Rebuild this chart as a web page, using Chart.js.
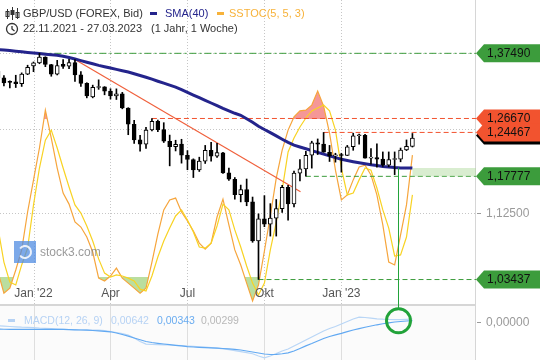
<!DOCTYPE html>
<html><head><meta charset="utf-8">
<script src="https://cdn.jsdelivr.net/npm/chart.js@4/dist/chart.umd.min.js"></script>
<style>html,body{margin:0;padding:0;background:#fff;overflow:hidden}#wrap{width:540px;height:360px;position:relative}</style>
</head><body><div id="wrap"><canvas id="c" width="540" height="360"></canvas></div>
<script>
// ---------- DATA ----------
const weeks = ['22.11.2021','29.11.2021','06.12.2021','13.12.2021','20.12.2021','27.12.2021',
'03.01.2022','10.01.2022','17.01.2022','24.01.2022','31.01.2022','07.02.2022','14.02.2022','21.02.2022','28.02.2022',
'07.03.2022','14.03.2022','21.03.2022','28.03.2022','04.04.2022','11.04.2022','18.04.2022','25.04.2022',
'02.05.2022','09.05.2022','16.05.2022','23.05.2022','30.05.2022','06.06.2022','13.06.2022','20.06.2022','27.06.2022',
'04.07.2022','11.07.2022','18.07.2022','25.07.2022','01.08.2022','08.08.2022','15.08.2022','22.08.2022','29.08.2022',
'05.09.2022','12.09.2022','19.09.2022','26.09.2022','03.10.2022','10.10.2022','17.10.2022','24.10.2022','31.10.2022',
'07.11.2022','14.11.2022','21.11.2022','28.11.2022','05.12.2022','12.12.2022','19.12.2022','26.12.2022',
'02.01.2023','09.01.2023','16.01.2023','23.01.2023','30.01.2023','06.02.2023','13.02.2023','20.02.2023','27.02.2023',
'06.03.2023','13.03.2023','20.03.2023','27.03.2023'];
const opens  = [1.3440,1.3330,1.3262,1.3265,1.3235,1.3395,1.3535,1.3585,1.3685,1.3555,1.3395,1.3560,1.3530,1.3590,1.3380,
1.3240,1.3015,1.3170,1.3180,1.3110,1.3030,1.3065,1.2835,1.2575,1.2330,1.2265,1.2485,1.2620,1.2490,1.2310,1.2225,1.2265,
1.2095,1.2030,1.1875,1.2005,1.2170,1.2080,1.2130,1.1830,1.1735,1.1510,1.1585,1.1405,1.0860,1.1165,1.1090,1.1175,1.1310,1.1615,
1.1375,1.1825,1.1890,1.2095,1.2285,1.2265,1.2140,1.2085,1.2095,1.2090,1.2225,1.2395,1.2400,1.2050,1.2060,1.2035,1.1945,
1.2030,1.2035,1.2175,1.2230];
const highs  = [1.3445,1.3370,1.3280,1.3375,1.3415,1.3545,1.3600,1.3749,1.3690,1.3560,1.3628,1.3643,1.3644,1.3643,1.3437,
1.3250,1.3210,1.3298,1.3185,1.3150,1.3148,1.3090,1.2840,1.2638,1.2400,1.2525,1.2667,1.2640,1.2600,1.2405,1.2325,1.2340,
1.2165,1.2040,1.2065,1.2245,1.2293,1.2276,1.2140,1.1900,1.1760,1.1649,1.1738,1.1475,1.1235,1.1495,1.1380,1.1440,1.1645,1.1645,
1.1855,1.2030,1.2155,1.2310,1.2345,1.2446,1.2245,1.2125,1.2125,1.2245,1.2435,1.2420,1.2418,1.2195,1.2270,1.2145,1.2145,
1.2145,1.2205,1.2330,1.2430];
const lows   = [1.3279,1.3195,1.3165,1.3170,1.3188,1.3385,1.3435,1.3570,1.3520,1.3358,1.3380,1.3490,1.3485,1.3273,1.3187,
1.3000,1.3000,1.3140,1.3050,1.2980,1.2973,1.2822,1.2411,1.2275,1.2155,1.2200,1.2470,1.2460,1.2290,1.1934,1.2160,1.1975,
1.1876,1.1760,1.1850,1.1970,1.2003,1.2060,1.1820,1.1717,1.1444,1.1405,1.1350,1.0840,1.0345,1.1055,1.0925,1.0925,1.1255,1.1145,
1.1335,1.1710,1.1780,1.1900,1.2105,1.2140,1.2000,1.1990,1.1840,1.2090,1.2170,1.2265,1.2050,1.1960,1.1915,1.1925,1.1920,
1.1803,1.1995,1.2165,1.2220];
const closes = [1.3330,1.3245,1.3255,1.3235,1.3395,1.3510,1.3585,1.3685,1.3560,1.3395,1.3540,1.3525,1.3590,1.3380,1.3240,
1.3030,1.3175,1.3185,1.3110,1.3030,1.3065,1.2835,1.2575,1.2330,1.2265,1.2485,1.2620,1.2490,1.2310,1.2225,1.2260,1.2095,
1.2030,1.1875,1.2005,1.2170,1.2080,1.2135,1.1830,1.1735,1.1510,1.1585,1.1405,1.0860,1.1165,1.1090,1.1175,1.1310,1.1615,1.1375,
1.1825,1.1890,1.2095,1.2285,1.2265,1.2140,1.2085,1.2095,1.2090,1.2225,1.2395,1.2400,1.2050,1.2060,1.2035,1.1945,1.2030,
1.2035,1.2175,1.2230,1.2360];
const sma40 = [1.3815,1.3806,1.3796,1.3786,1.3775,1.3765,1.3754,1.3744,1.3734,1.3725,1.3716,1.3698,1.3677,1.3651,1.3624,
1.3596,1.3569,1.3542,1.3518,1.3496,1.3474,1.3452,1.3430,1.3401,1.3371,1.3342,1.3309,1.3275,1.3242,1.3210,1.3178,1.3137,
1.3091,1.3046,1.3002,1.2960,1.2916,1.2872,1.2828,1.2788,1.2750,1.2718,1.2663,1.2606,1.2543,1.2492,1.2444,1.2392,1.2341,1.2291,
1.2248,1.2220,1.2194,1.2165,1.2138,1.2112,1.2084,1.2059,1.2033,1.2015,1.1997,1.1980,1.1965,1.1950,1.1938,1.1926,1.1917,
1.1908,1.1902,1.1902,1.1902];
const stochK = [21.9,13.9,15.8,22.7,30.3,44.7,56.9,69.0,83.4,72.8,61.4,51.9,47.7,40.9,39.0,35.2,29.5,19.6,18.5,20.4,23.4,
19.6,17.7,15.8,13.9,15.8,25.7,36.3,45.5,49.3,50.0,44.7,41.3,37.5,32.9,30.6,32.9,42.8,49.6,39.8,30.3,24.6,17.7,10.9,17.0,
29.9,43.2,57.6,68.2,75.8,80.8,83.1,83.4,85.3,90.6,84.9,74.7,60.6,49.3,51.2,56.9,61.8,62.5,58.8,51.2,39.8,25.7,24.6,36.0,47.4,66.3];
const stochD = [38.6,25.7,18.1,17.0,24.6,31.0,47.4,61.4,72.0,75.8,69.0,61.4,54.2,47.4,44.3,39.4,33.7,26.9,21.5,20.0,20.8,
20.4,19.6,18.5,15.4,14.7,20.4,27.6,33.7,38.6,43.2,45.5,41.7,37.1,31.4,31.0,32.9,39.4,47.7,45.5,37.9,31.4,24.2,17.7,13.2,
17.7,30.3,40.9,53.1,67.5,72.8,77.0,80.4,83.1,84.2,85.3,83.1,75.8,61.4,51.2,51.9,56.9,61.4,60.6,53.8,45.5,38.6,28.0,28.4,35.2,51.2];
const macdLine = [-0.0064,-0.0070,-0.0077,-0.0083,-0.0089,-0.0092,-0.0098,-0.0106,-0.0111,-0.0119,-0.0125,-0.0130,-0.0134,
-0.0136,-0.0140,-0.0142,-0.0143,-0.0147,-0.0155,-0.0172,-0.0191,-0.0211,-0.0238,-0.0294,-0.0360,-0.0409,-0.0413,-0.0419,
-0.0423,-0.0426,-0.0432,-0.0438,-0.0445,-0.0453,-0.0460,-0.0468,-0.0475,-0.0485,-0.0498,-0.0513,-0.0532,-0.0551,-0.0570,
-0.0592,-0.0634,-0.0668,-0.0634,-0.0587,-0.0540,-0.0502,-0.0445,-0.0389,-0.0332,-0.0275,-0.0219,-0.0162,-0.0115,-0.0077,
-0.0030,0.0017,0.0064,0.0098,0.0092,0.0079,0.0068,0.0060,0.0055,0.0051,0.0053,0.0058,0.00642];
const macdSignal = [-0.0128,-0.0129,-0.0130,-0.0130,-0.0130,-0.0130,-0.0130,-0.0130,-0.0131,-0.0131,-0.0131,-0.0132,-0.0136,
-0.0140,-0.0143,-0.0147,-0.0153,-0.0160,-0.0168,-0.0177,-0.0200,-0.0228,-0.0260,-0.0294,-0.0328,-0.0360,-0.0379,-0.0394,
-0.0408,-0.0421,-0.0432,-0.0443,-0.0457,-0.0464,-0.0470,-0.0475,-0.0481,-0.0487,-0.0492,-0.0500,-0.0509,-0.0521,-0.0540,
-0.0558,-0.0577,-0.0596,-0.0606,-0.0602,-0.0592,-0.0574,-0.0540,-0.0492,-0.0442,-0.0398,-0.0351,-0.0304,-0.0266,-0.0234,
-0.0206,-0.0174,-0.0143,-0.0117,-0.0091,-0.0068,-0.0045,-0.0026,-0.0008,0.0008,0.0017,0.0026,0.00343];
const macdValues = ['0,00642','0,00343','0,00299'];
const tickIndex = [6,19,32,45,58];
const tickLabels = ["Jan '22","Apr","Jul","Okt","Jan '23"];
const levelPrices = [1.37490,1.26670,1.24467,1.17777,1.03437];
const levelLabels = ['1,37490','1,26670','1,24467','1,17777','1,03437'];
const levelFrom = [7,26,55,52,44];
const trendIdx = [13,51.1];
const trendPrice = [1.3643,1.1552];
const priceGrid = [1.125,1.25,1.375];
const priceAxisLabel = [1.125,'1,12500'];
const signalMark = 67.5;

// ---------- STYLE ----------
const GREEN='#3c9c3c', RED='#f2532f', FONT='"Liberation Sans", Arial, sans-serif';
const XMIN=0.338, XMAX=80.74;
const YMIN=0.9348, YMAX=1.4703;
const pts = arr => arr.map((v,i)=>({x:i,y:v}));
const seg = (i0,i1,p0,p1)=>[{x:i0,y:p0},{x:i1,y:p1}];

const levelStyles = [
  {c:GREEN,d:[7,3,2,3]},{c:RED,d:[5,3]},{c:RED,d:[5,3]},{c:GREEN,d:[5,3]},{c:GREEN,d:[5,3]}
];
const levelSets = levelPrices.map((p,k)=>({type:'line',data:seg(levelFrom[k],XMAX,p,p),yAxisID:'y',
  borderColor:levelStyles[k].c,borderDash:levelStyles[k].d,borderWidth:1,pointRadius:0,order:6}));

const up = opens.map((o,i)=>closes[i]>=o);
const datasets = [
  {type:'line',data:pts(stochK),yAxisID:'yS',borderWidth:0,borderColor:'rgba(0,0,0,0)',pointRadius:0,
   fill:{target:{value:80},above:'rgba(240,95,95,0.65)',below:'rgba(0,0,0,0)'},order:12},
  {type:'line',data:pts(stochK),yAxisID:'yS',borderWidth:0,borderColor:'rgba(0,0,0,0)',pointRadius:0,
   fill:{target:{value:20},above:'rgba(0,0,0,0)',below:'rgba(140,200,95,0.6)'},order:12},
  {type:'line',data:pts(stochK),yAxisID:'yS',borderColor:'#f6a53c',borderWidth:1.2,pointRadius:0,order:10,
   clip:{left:0,top:0,right:0,bottom:-55}},
  {type:'line',data:pts(stochD),yAxisID:'yS',borderColor:'#f8d323',borderWidth:1.2,pointRadius:0,order:9,
   clip:{left:0,top:0,right:0,bottom:-55}},
  {type:'line',data:pts(macdSignal),yAxisID:'yM',borderColor:'#62a9f2',borderWidth:1.2,pointRadius:0,order:8},
  {type:'line',data:pts(macdLine),yAxisID:'yM',borderColor:'#b9d6f6',borderWidth:1.2,pointRadius:0,order:8},
  ...levelSets,
  {type:'line',data:seg(trendIdx[0],trendIdx[1],trendPrice[0],trendPrice[1]),yAxisID:'y',borderColor:'#f0603c',borderWidth:1.2,pointRadius:0,order:6},
  {type:'line',data:pts(sma40),yAxisID:'y',borderColor:'#24248c',borderWidth:3,pointRadius:0,order:5},
  {type:'bar',data:highs.map((h,i)=>({x:i,y:[lows[i],h]})),yAxisID:'y',grouped:false,barThickness:1,
   backgroundColor:'#000',borderWidth:0,order:2},
  {type:'bar',data:opens.map((o,i)=>({x:i,y:[o,closes[i]]})),yAxisID:'y',grouped:false,barThickness:4,
   backgroundColor:up.map(u=>u?'#fff':'#000'),borderColor:'#000',borderWidth:1,borderSkipped:false,minBarLength:1,order:1}
];

const deco = {
  id:'deco',
  beforeDatasetsDraw(chart){
    const {ctx,scales:{x,y}}=chart;
    ctx.save();
    ctx.fillStyle='#fbfbfb'; ctx.fillRect(0,306,476,54);
    ctx.strokeStyle='#c6c6c6'; ctx.lineWidth=1; ctx.setLineDash([1,2]);
    tickIndex.forEach(i=>{const px=Math.round(x.getPixelForValue(i))+0.5;
      ctx.beginPath();ctx.moveTo(px,0);ctx.lineTo(px,304);ctx.stroke();});
    priceGrid.forEach(p=>{const py=Math.round(y.getPixelForValue(p))+0.5;
      ctx.beginPath();ctx.moveTo(0,py);ctx.lineTo(476,py);ctx.stroke();});
    ctx.setLineDash([]);
    ctx.strokeStyle='#dedede';
    tickIndex.forEach(i=>{const px=Math.round(x.getPixelForValue(i))+0.5;
      ctx.beginPath();ctx.moveTo(px,306);ctx.lineTo(px,360);ctx.stroke();});
    ctx.strokeStyle='#d6d6d6';
    ctx.beginPath();ctx.moveTo(475.5,0);ctx.lineTo(475.5,360);ctx.stroke();
    ctx.lineWidth=2;ctx.beginPath();ctx.moveTo(0,305);ctx.lineTo(476,305);ctx.stroke();
    ctx.restore();
  },
  afterDatasetsDraw(chart){
    const {ctx,scales:{x,y,yM}}=chart;
    ctx.save();
    const xe=x.getPixelForValue(sma40.length-1), ys=y.getPixelForValue(sma40[sma40.length-1]), yl=y.getPixelForValue(levelPrices[3]);
    ctx.fillStyle='rgba(170,215,150,0.45)'; ctx.fillRect(xe,ys,476-xe,yl-ys);
    const mx=Math.round(x.getPixelForValue(signalMark))+0.5, my=yM.getPixelForValue(0.0032);
    ctx.strokeStyle='#22a33a'; ctx.lineWidth=1;
    ctx.beginPath();ctx.moveTo(mx,y.getPixelForValue(sma40[67]));ctx.lineTo(mx,my-12);ctx.stroke();
    ctx.lineWidth=3; ctx.beginPath();ctx.arc(mx,my,12,0,Math.PI*2);ctx.stroke();
    ctx.restore();
  },
  afterDraw(chart){
    const {ctx,scales:{x,y,yM}}=chart;
    ctx.save();
    ctx.textBaseline='middle';
    ctx.font='12px '+FONT; ctx.fillStyle='#555'; ctx.textAlign='center';
    tickIndex.forEach((i,k)=>ctx.fillText(tickLabels[k],x.getPixelForValue(i),294));
    ctx.textAlign='left'; ctx.fillStyle='#9a9a9a'; ctx.strokeStyle='#9a9a9a'; ctx.lineWidth=1;
    const gy=Math.round(y.getPixelForValue(priceAxisLabel[0]))+0.5;
    ctx.beginPath();ctx.moveTo(477,gy);ctx.lineTo(481,gy);ctx.stroke();
    ctx.fillText(priceAxisLabel[1],486,gy);
    const zy=Math.round(yM.getPixelForValue(0))+0.5;
    ctx.beginPath();ctx.moveTo(477,zy);ctx.lineTo(481,zy);ctx.stroke();
    ctx.fillText('0,00000',486,zy);
    const cols=[GREEN,RED,RED,GREEN,GREEN];
    levelPrices.forEach((p,k)=>{
      const by=y.getPixelForValue(p);
      const path=(dy)=>{ctx.beginPath();ctx.moveTo(476,by+dy);ctx.lineTo(484,by-9+dy);ctx.lineTo(540,by-9+dy);
        ctx.lineTo(540,by+9+dy);ctx.lineTo(484,by+9+dy);ctx.closePath();};
      if(k===2){ctx.fillStyle='#000';path(3);ctx.fill();}
      ctx.fillStyle=cols[k];path(0);ctx.fill();
      ctx.fillStyle='#111';ctx.font='12px '+FONT;ctx.fillText(levelLabels[k],487,by+0.5);
    });
    ctx.font='11px '+FONT; ctx.fillStyle='#333';
    ctx.fillText('GBP/USD (FOREX, Bid)',23,14);
    ctx.fillText('22.11.2021 - 27.03.2023',23,29);
    ctx.fillText('(1 Jahr, 1 Woche)',151,29);
    ctx.fillStyle='#24248c';ctx.fillRect(150,12,7,3);ctx.fillText('SMA(40)',165,14);
    ctx.fillStyle='#f7b23a';ctx.fillRect(217,12,7,3);ctx.fillText('SSTOC(5, 5, 3)',229,14);
    ctx.strokeStyle='#333';ctx.fillStyle='#333';ctx.lineWidth=1;
    [[7.5,9,19,11,16],[12.5,7,20,10,15],[17.5,8,19,12,17]].forEach(([cx,t,b,bt,bb],k)=>{
      ctx.beginPath();ctx.moveTo(cx,t);ctx.lineTo(cx,b);ctx.stroke();
      if(k===1){ctx.fillRect(cx-2,bt,4,bb-bt);}else{ctx.strokeRect(cx-1.5,bt+0.5,3,bb-bt);}
    });
    ctx.lineWidth=1.3;ctx.beginPath();ctx.arc(12,29,5.5,0,Math.PI*2);ctx.stroke();
    ctx.beginPath();ctx.moveTo(12,26);ctx.lineTo(12,29);ctx.lineTo(14.5,31);ctx.stroke();
    ctx.font='10.5px '+FONT;
    ctx.fillStyle='#b6d2f4';ctx.fillRect(8,319,7,3);ctx.fillText('MACD(12, 26, 9)',24,321);
    ctx.fillText(macdValues[0],111,321);
    ctx.fillStyle='#6aacf0';ctx.fillText(macdValues[1],157,321);
    ctx.fillStyle='#b8b8b8';ctx.fillText(macdValues[2],201,321);
    ctx.fillStyle='rgba(80,140,225,0.75)';ctx.fillRect(14,241,22,22);
    ctx.strokeStyle='rgba(255,255,255,0.85)';ctx.lineWidth=2;
    ctx.beginPath();ctx.arc(25,252,6,-Math.PI*0.8,Math.PI*0.8);ctx.stroke();
    ctx.fillStyle='rgba(120,120,120,0.75)';ctx.font='12px '+FONT;ctx.fillText('stock3.com',40,253);
    ctx.restore();
  }
};

const fixBounds=(lo,hi)=>(s)=>{s.min=lo;s.max=hi;};
new Chart(document.getElementById('c'),{
  data:{labels:weeks,datasets},
  options:{
    responsive:false,devicePixelRatio:1,animation:false,
    layout:{padding:{left:0,right:64,top:0,bottom:0}},
    plugins:{legend:{display:false},tooltip:{enabled:false}},
    scales:{
      x:{type:'linear',min:XMIN,max:XMAX,offset:false,bounds:'data',display:false,grid:{offset:false},afterBuildTicks:fixBounds(XMIN,XMAX)},
      y:{type:'logarithmic',min:YMIN,max:YMAX,bounds:'data',display:false,afterBuildTicks:fixBounds(YMIN,YMAX)},
      yS:{type:'linear',min:-11.49,max:125.2,bounds:'data',display:false,afterBuildTicks:fixBounds(-11.49,125.2)},
      yM:{type:'linear',min:-0.07094,max:0.6083,bounds:'data',display:false,afterBuildTicks:fixBounds(-0.07094,0.6083)}
    }
  },
  plugins:[deco]
});
</script></body></html>
